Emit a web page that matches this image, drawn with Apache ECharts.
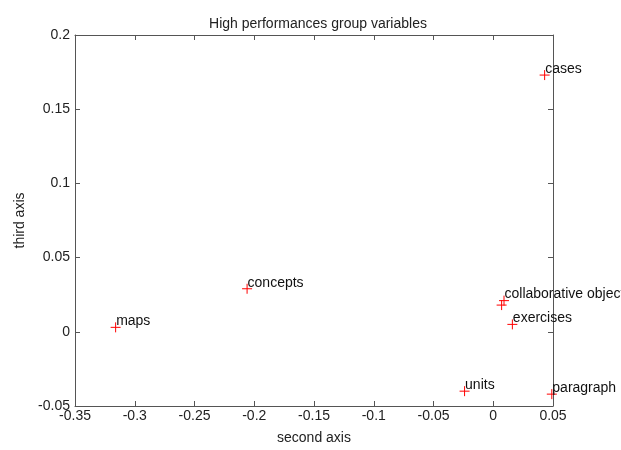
<!DOCTYPE html>
<html>
<head>
<meta charset="utf-8">
<script src="https://cdn.jsdelivr.net/npm/echarts@6/dist/echarts.min.js"></script>
<style>
  html, body { margin: 0; padding: 0; background: #fff; }
  #chart { width: 621px; height: 450px; }
</style>
</head>
<body>
<div id="chart"></div>
<script>
// variable names and their coordinates (second axis, third axis)
const names = ['maps', 'concepts', 'units', 'paragraph', 'collaborative objects', '', 'exercises', 'cases'];
const secondAxis = [-0.316, -0.206, -0.024, 0.049, 0.009, 0.007, 0.016, 0.043];
const thirdAxis = [0.003, 0.029, -0.040, -0.042, 0.021, 0.018, 0.005, 0.173];

const xTicks = { min: -0.35, max: 0.05, interval: 0.05 };
const yTicks = { min: -0.05, max: 0.2, interval: 0.05 };

const font = 'Liberation Sans, Arial, sans-serif';
const axisGray = '#555';

const fmt = v => String(Math.round(v * 100) / 100);

const points = names.map((n, i) => ({ name: n, value: [secondAxis[i], thirdAxis[i]] }));

const baseAxis = (pos, cfg, show) => ({
    type: 'value',
    position: pos,
    min: cfg.min, max: cfg.max, interval: cfg.interval,
    splitLine: { show: false },
    axisLine: { show: true, onZero: false, lineStyle: { color: axisGray, width: 1 } },
    axisTick: { show: true, inside: true, length: 5, lineStyle: { color: axisGray } },
    axisLabel: { show: show, color: '#222', fontFamily: font, fontSize: 14, formatter: fmt }
});

const chart = echarts.init(document.getElementById('chart'));
chart.setOption({
    animation: false,
    backgroundColor: '#fff',
    title: {
        text: 'High performances group variables',
        left: 313, top: 12, textAlign: 'center',
        textStyle: { fontFamily: font, fontSize: 14, fontWeight: 'normal', color: '#222' }
    },
    grid: { left: 75, right: 68, top: 35, bottom: 38 },
    xAxis: [
        Object.assign(baseAxis('bottom', xTicks, true), {
            name: 'second axis', nameLocation: 'middle', nameGap: 25,
            nameTextStyle: { fontFamily: font, fontSize: 14, color: '#222' },
            axisLabel: { color: '#222', fontFamily: font, fontSize: 14, formatter: fmt, margin: 3 }
        }),
        baseAxis('top', xTicks, false)
    ],
    yAxis: [
        Object.assign(baseAxis('left', yTicks, true), {
            name: 'third axis', nameLocation: 'middle', nameGap: 44, nameRotate: 90,
            nameTextStyle: { fontFamily: font, fontSize: 14, color: '#222' },
            axisLabel: { color: '#222', fontFamily: font, fontSize: 14, formatter: fmt, margin: 5 }
        }),
        baseAxis('right', yTicks, false)
    ],
    series: [{
        type: 'scatter',
        xAxisIndex: 0, yAxisIndex: 0,
        symbol: 'path://M0,5L10,5M5,0L5,10',
        symbolSize: 10,
        itemStyle: { color: 'rgba(0,0,0,0)', borderColor: '#ff0000', borderWidth: 1, opacity: 1 },
        label: {
            show: true,
            formatter: p => p.name,
            position: [6, -7.5],
            align: 'left', verticalAlign: 'top',
            fontFamily: font, fontSize: 14, color: '#111'
        },
        data: points
    }]
});
</script>
</body>
</html>
